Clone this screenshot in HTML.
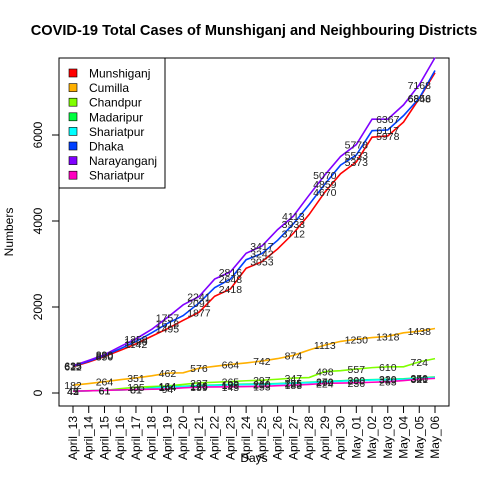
<!DOCTYPE html>
<html><head><meta charset="utf-8"><style>
body{margin:0;background:#fff}
svg text{font-family:"Liberation Sans",sans-serif}
</style></head><body>
<svg id="c" width="480" height="480" xmlns="http://www.w3.org/2000/svg">
<rect width="480" height="480" fill="#fff"/>
<text x="254" y="35" text-anchor="middle" font-size="14.6" font-weight="bold">COVID-19 Total Cases of Munshiganj and Neighbouring Districts</text>
<rect x="59" y="58" width="390" height="348" fill="none" stroke="#000"/>
<text x="254" y="462" text-anchor="middle" font-size="12">Days</text>
<text transform="translate(13,232) rotate(-90)" text-anchor="middle" font-size="12">Numbers</text>
<g id="g"></g>
</svg>
<script>
const days=["April_13","April_14","April_15","April_16","April_17","April_18","April_19","April_20","April_21","April_22","April_23","April_24","April_25","April_26","April_27","April_28","April_29","April_30","May_01","May_02","May_03","May_04","May_05","May_06"];
const yTicks=[0,2000,4000,6000];
const seriesNames=["Munshiganj","Cumilla","Chandpur","Madaripur","Shariatpur","Dhaka","Narayanganj","Shariatpur"];
const seriesColors=["#ff0000","#ffb000","#80ff00","#00ff40","#00ffff","#0040ff","#8000ff","#ff00c0"];
const munshiganj=[612,720,850,990,1142,1320,1495,1690,1877,2250,2418,2900,3053,3350,3712,4150,4670,5100,5373,5950,5978,6300,6848,7450];
const cumilla=[182,220,264,310,351,400,462,470,576,620,664,700,742,800,874,1000,1113,1200,1250,1290,1318,1400,1438,1500];
const chandpur=[45,55,61,100,135,150,164,200,237,250,265,285,297,320,347,360,498,520,557,590,610,610,724,800];
const madaripur=[43,52,61,71,81,120,154,156,176,186,199,204,210,220,235,250,270,285,300,310,320,330,350,370];
const shariatpur1=[42,50,61,71,81,110,144,150,166,175,190,195,200,210,225,240,260,275,290,300,310,320,340,360];
const dhaka=[625,740,870,1030,1200,1400,1618,1800,2091,2450,2648,3100,3242,3550,3933,4380,4859,5300,5533,6100,6117,6450,6856,7500];
const narayanganj=[635,760,890,1080,1259,1480,1757,2050,2241,2650,2816,3250,3417,3800,4113,4600,5070,5500,5778,6367,6367,6700,7168,7800];
const shariatpur2=[41,50,61,71,81,88,94,120,139,142,145,150,153,170,183,200,224,230,236,250,263,290,321,340];
const allSeries=[munshiganj,cumilla,chandpur,madaripur,shariatpur1,dhaka,narayanganj,shariatpur2];
const NS="http://www.w3.org/2000/svg";
const g=document.getElementById('g');
const x=i=>73+i*(362/(days.length-1));
const y=v=>393-v*0.043;
function mk(t,a){const e=document.createElementNS(NS,t);for(const k in a)e.setAttribute(k,a[k]);g.appendChild(e);return e;}
yTicks.forEach(v=>{
 const l=mk('line',{x1:52,x2:59,y1:y(v),y2:y(v),stroke:'#000'});
 
 
 const t=mk('text',{transform:`translate(42,${y(v)}) rotate(-90)`,'text-anchor':'middle','font-size':12});
 t.textContent=v;
 
 
});
days.forEach((d,i)=>{
 const l=mk('line',{x1:x(i),x2:x(i),y1:406,y2:413,stroke:'#000'});
 
 
 const t=mk('text',{transform:`translate(${x(i)+4},${416}) rotate(-90)`,'text-anchor':'end','font-size':12});
 t.textContent=d;
 
 
});
allSeries.forEach((s,k)=>{
 const p=mk('polyline',{points:s.map((v,i)=>x(i)+','+y(v)).join(' '),fill:'none',stroke:seriesColors[k],'stroke-width':1.6});
 
 
});
allSeries.forEach((s,k)=>{
 s.forEach((v,i)=>{if(i%2)return;
  const t=mk('text',{x:x(i),y:y(v)+4,'text-anchor':'middle','font-size':10.5,fill:'#222'});
  t.textContent=v;
  
  
 });
});
const lg=mk('rect',{x:59,y:58,width:106,height:130,fill:'#fff',stroke:'#000'});


seriesNames.forEach((n,k)=>{
 const yy=73+k*14.6;
 const r=mk('rect',{x:69,y:yy-4,width:8,height:8,fill:seriesColors[k],stroke:'#000','stroke-width':0.6});
 
 
 const t=mk('text',{x:89,y:yy+4.5,'font-size':12});
 t.textContent=n;
 
 
});
</script>
</body></html>
